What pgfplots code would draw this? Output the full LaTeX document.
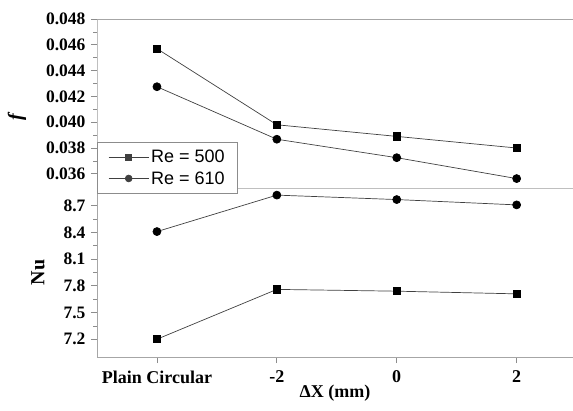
\documentclass[border=0pt]{standalone}
\usepackage{pgfplots}
\pgfplotsset{compat=1.18}
\usepackage{fontspec}
\setmainfont{Liberation Serif}
\newfontfamily\legfont{Liberation Sans}
\begin{document}
\begin{tikzpicture}
\useasboundingbox (-97pt,-53pt) rectangle (476pt,357pt);
\pgfplotsset{
  common/.style={
    scale only axis, width=476pt, height=169pt,
    xmin=-0.5, xmax=3.47,
    axis line style={draw=black!35, line width=0.8pt},
    tick style={draw=black!45, line width=0.7pt},
    axis x line*=bottom, axis y line*=left,
    ytick pos=left, xtick pos=bottom,
    tick align=outside,
    major tick length=6pt, minor tick length=3.5pt,
    minor y tick num=1,
    ticklabel style={font=\fontsize{17.5}{19}\selectfont\bfseries},
    yticklabel style={xshift=-2pt},
    /pgf/number format/assume math mode=true,
    every axis plot/.append style={black!75, line width=0.7pt, mark options={black, fill=black, solid}},
  }
}
\begin{axis}[common, name=bot, at={(0,0)}, anchor=south west,
  ymin=7.0, ymax=8.9,
  ytick={7.2,7.5,7.8,8.1,8.4,8.7},
  yticklabel style={/pgf/number format/.cd, fixed, fixed zerofill, precision=1},
  xtick={0,1,2,3}, xticklabels={Plain Circular,-2,0,2},
  x tick label style={font=\fontsize{18}{20}\selectfont\bfseries, yshift=-4pt},
  xlabel={\fontsize{18}{20}\selectfont\bfseries ΔX (mm)},
  xlabel style={at={(axis description cs:0.5,0)}, anchor=center, yshift=-36pt},
  ylabel={\fontsize{20}{22}\selectfont\bfseries Nu},
  ylabel style={at={(axis description cs:0,0.5)}, anchor=center, yshift=59pt},
]
\addplot[mark=square*, mark size=3.6pt] coordinates {(0,7.20) (1,7.76) (2,7.74) (3,7.71)};
\addplot[mark=*, mark size=4pt] coordinates {(0,8.41) (1,8.82) (2,8.77) (3,8.71)};
\end{axis}
\begin{axis}[common, at={(0,169pt)}, anchor=south west,
  axis x line*=bottom, xtick=\empty, axis line style={draw=black!25, line width=0.8pt},
  ymin=0.0349, ymax=0.048,
  ytick={0.036,0.038,0.040,0.042,0.044,0.046,0.048},
  yticklabel style={/pgf/number format/.cd, fixed, fixed zerofill, precision=3},
  scaled y ticks=false,
  ylabel={\fontsize{20}{22}\selectfont\bfseries\itshape f},
  ylabel style={at={(axis description cs:0,0.42)}, anchor=center, yshift=80pt},
  legend style={at={(0,0.272)}, anchor=north west, draw=black!45, line width=0.7pt,
    font=\legfont\fontsize{18}{20}\selectfont, inner xsep=11pt, inner ysep=6pt,
    row sep=3pt, legend cell align=left},
  legend image code/.code={\draw[mark repeat=2,mark phase=2] plot coordinates {(0pt,0pt) (20pt,0pt) (40pt,0pt)};},
  legend image post style={mark options={scale=0.85}},
]
\draw[black!35, line width=0.8pt] (rel axis cs:0,1) -- (rel axis cs:1,1);
\addplot[mark=square*, mark size=3.6pt] coordinates {(0,0.0457) (1,0.0398) (2,0.0389) (3,0.0380)};
\addplot[mark=*, mark size=4pt] coordinates {(0,0.04275) (1,0.03868) (2,0.03725) (3,0.03563)};
\legend{Re = 500, Re = 610}
\end{axis}
\end{tikzpicture}
\end{document}
